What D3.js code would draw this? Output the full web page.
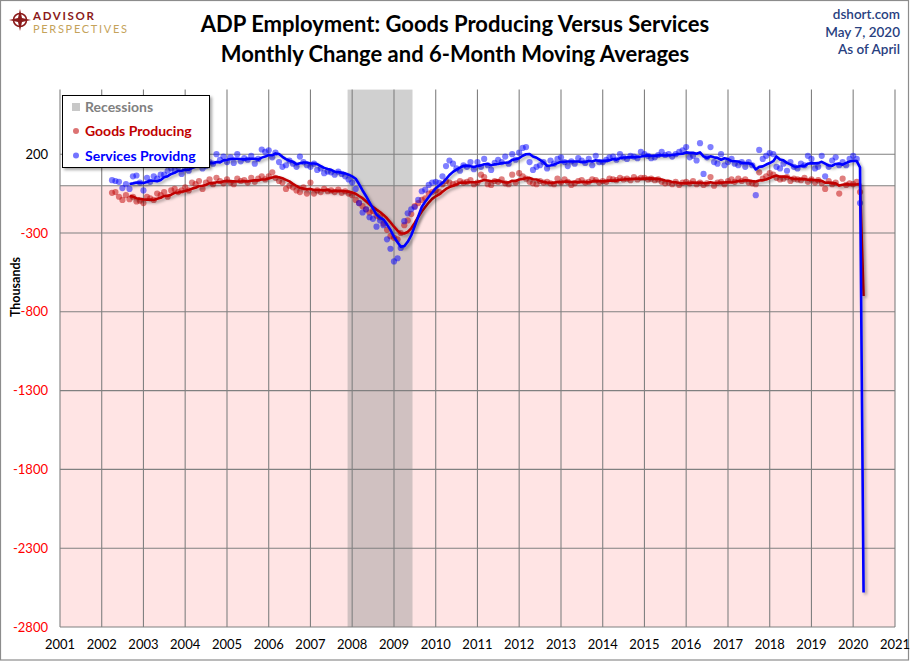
<!DOCTYPE html>
<html>
<head>
<meta charset="utf-8">
<title>ADP Employment: Goods vs Services</title>
<script src="https://cdn.jsdelivr.net/npm/d3@7"></script>
<style>
    body { margin: 0; background: #fff; }
    svg { display: block; font-family: Lato, "Open Sans", sans-serif; }
</style>
</head>
<body>
<div id="chart"></div>
<script>

// ADP monthly change in employment (thousands), Apr 2002 .. Apr 2020
let firstMonth = "2002-04";

let goodsChange = [
    -45, -40, -70, -90, -60, -85, -70, -100, -95,                    // 2002 (Apr-Dec)
    -110, -70, -80, -90, -50, -60, -40, -70, -30, -20, -40, -30,     // 2003
    -10, -30, 20, 10, 30, -20, 20, 40, 10, 50, 30, 15,               // 2004
    40, 20, 10, 45, 30, 35, 20, 50, 25, 45, 60, 40,                  // 2005
    60, 85, 50, 30, 20, -20, 0, -10, -30, -40, -10, -50,             // 2006
    20, -50, -30, -40, -20, -35, -30, -40, -25, -45, -35, -50,       // 2007
    -60, -90, -110, -130, -150, -170, -160, -190, -200, -240, -280, -320, // 2008
    -330, -340, -300, -250, -220, -180, -130, -110, -90, -80, -50, -40,   // 2009
    -30, -40, 10, 30, 20, 10, 15, 30, 20, 25, 35, 10,                // 2010
    20, 70, 55, 10, 5, 30, 25, 40, 15, 10, 70, 20,                   // 2011
    80, 60, 45, 25, 15, 10, 30, 20, 25, 15, 10, 45,                  // 2012
    20, 40, 25, 5, 15, 30, 35, 20, 25, 40, 35, 20,                   // 2013
    30, 25, 45, 40, 35, 50, 40, 45, 35, 55, 40, 50,                  // 2014
    50, 40, 45, 35, 40, 25, 15, 20, 10, 25, 5, 20,                   // 2015
    25, 15, 30, 10, 20, 5, 15, 55, 0, 20, 25, 10,                    // 2016
    30, 40, 25, 45, 30, 40, 20, 15, 10, 85, 45, 60,                  // 2017
    80, 70, 50, 40, 45, 55, 30, 45, 40, 35, 50, 25,                  // 2018
    40, 20, 35, 15, -20, 30, 10, 20, -50, 45, 5, 15,                 // 2019
    10, 25, -40, -4210                                               // 2020 (Jan-Apr)
];

let servicesChange = [
    35, 30, 25, -15, 10, -20, 60, 65, 20,                            // 2002 (Apr-Dec)
    -30, 50, 25, 60, 45, 70, 70, 95, 110, 100, 120, 75,              // 2003
    110, 95, 170, 150, 180, 110, 125, 150, 140, 200, 165, 185,       // 2004
    150, 180, 145, 200, 155, 175, 165, 190, 140, 170, 230, 215,      // 2005
    225, 180, 210, 150, 120, 130, 160, 140, 120, 185, 150, 130,      // 2006
    120, 140, 100, 110, 80, 90, 85, 70, 90, 75, 60, 40,              // 2007
    20, -20, -110, -170, -150, -200, -210, -260, -220, -250, -340, -400, // 2008
    -480, -460, -395, -225, -175, -150, -135, -90, -35, -25, 5, 20,  // 2009
    25, 18, 60, 125, 160, 140, 110, 95, 130, 120, 150, 105,          // 2010
    150, 120, 170, 130, 100, 145, 165, 150, 185, 140, 200, 165,      // 2011
    210, 240, 245, 150, 100, 120, 130, 150, 110, 160, 140, 170,      // 2012
    180, 150, 125, 155, 140, 175, 160, 145, 170, 130, 190, 150,      // 2013
    150, 165, 180, 185, 165, 200, 180, 170, 190, 185, 175, 215,      // 2014
    200, 190, 175, 180, 195, 215, 195, 200, 185, 200, 215, 225,      // 2015
    245, 180, 190, 160, 270, 75, 180, 245, 150, 140, 200, 130,       // 2016
    150, 170, 140, 130, 150, 120, 150, 130, -60, 227, 170, 190,      // 2017
    207, 200, 120, 110, 140, 95, 150, 120, 110, 140, 130, 190,       // 2018
    170, 110, 120, 190, 60, 120, 160, 180, 130, 150, 130, 170,       // 2019
    190, 170, -110, -16040                                           // 2020 (Jan-Apr)
];

let recessions = [{start: "2007-11-22", end: "2009-06-12"}];

let yearTicks = d3.range(2001, 2022);
let valueTicks = [200, -300, -800, -1300, -1800, -2300, -2800];
let yMin = -2800, yMax = 610;
let maWindow = 6;


class EmploymentChart {

    constructor(parentElement) {
        this.parentElement = parentElement;
        this.initVis();
    }

    initVis() {
        let vis = this;

        vis.width = 910;
        vis.height = 661;
        vis.plot = {left: 60, right: 895, top: 89.6, bottom: 627};

        vis.svg = d3.select(vis.parentElement).append("svg")
            .attr("width", vis.width)
            .attr("height", vis.height);

        let defs = vis.svg.append("defs");
        defs.append("filter").attr("id", "shadow")
            .attr("x", "-20%").attr("y", "-20%").attr("width", "140%").attr("height", "140%")
            .append("feDropShadow")
            .attr("dx", 2).attr("dy", 2).attr("stdDeviation", 1.4)
            .attr("flood-color", "#000").attr("flood-opacity", 0.35);
        defs.append("clipPath").attr("id", "plotClip")
            .append("rect")
            .attr("x", vis.plot.left).attr("y", vis.plot.top)
            .attr("width", vis.plot.right - vis.plot.left)
            .attr("height", vis.plot.bottom - vis.plot.top);

        // outer frame
        vis.svg.append("rect")
            .attr("x", 0.5).attr("y", 0.5)
            .attr("width", vis.width - 2).attr("height", vis.height - 1.5)
            .attr("fill", "#fff").attr("stroke", "#8c8c8c").attr("stroke-width", 1.2);

        vis.x = d3.scaleTime()
            .domain([new Date(2001, 0, 1), new Date(2021, 0, 1)])
            .range([vis.plot.left, vis.plot.right]);

        vis.y = d3.scaleLinear()
            .domain([yMin, yMax])
            .range([vis.plot.bottom, vis.plot.top]);

        vis.drawHeader();
        vis.wrangleData();
    }

    wrangleData() {
        let vis = this;
        let start = d3.timeParse("%Y-%m")(firstMonth);

        let build = (values) => values.map((v, i) => {
            let row = {date: d3.timeMonth.offset(start, i), value: v, ma: null};
            if (i >= maWindow - 1) {
                row.ma = d3.mean(values.slice(i - maWindow + 1, i + 1));
            }
            return row;
        });

        vis.goods = build(goodsChange);
        vis.services = build(servicesChange);

        vis.updateVis();
    }

    updateVis() {
        let vis = this;
        let p = vis.plot;
        let parse = d3.timeParse("%Y-%m-%d");

        // negative territory shading
        vis.svg.append("rect")
            .attr("x", p.left).attr("y", vis.y(0))
            .attr("width", p.right - p.left)
            .attr("height", vis.y(yMin) - vis.y(0))
            .attr("fill", "#ffe4e4");

        // recessions
        vis.svg.selectAll(".recession")
            .data(recessions)
            .enter().append("rect")
            .attr("class", "recession")
            .attr("x", d => vis.x(parse(d.start)))
            .attr("y", p.top)
            .attr("width", d => vis.x(parse(d.end)) - vis.x(parse(d.start)))
            .attr("height", p.bottom - p.top)
            .attr("fill", "#969696")
            .attr("fill-opacity", 0.45);

        // grid
        let grid = vis.svg.append("g").attr("stroke", "#808080").attr("stroke-width", 1.1);
        grid.selectAll(".vgrid")
            .data(yearTicks)
            .enter().append("line")
            .attr("x1", d => vis.x(new Date(d, 0, 1)))
            .attr("x2", d => vis.x(new Date(d, 0, 1)))
            .attr("y1", p.top).attr("y2", p.bottom);
        grid.selectAll(".hgrid")
            .data(valueTicks.concat([0]))
            .enter().append("line")
            .attr("x1", p.left).attr("x2", p.right)
            .attr("y1", d => vis.y(d)).attr("y2", d => vis.y(d));

        // axis labels
        vis.svg.selectAll(".ylab")
            .data(valueTicks)
            .enter().append("text")
            .attr("x", 48)
            .attr("y", d => vis.y(d) + 4.5)
            .attr("text-anchor", "end")
            .attr("font-size", 13)
            .attr("fill", d => d < 0 ? "#ff0000" : "#000")
            .text(d => d);

        vis.svg.selectAll(".xlab")
            .data(yearTicks)
            .enter().append("text")
            .attr("x", d => vis.x(new Date(d, 0, 1)))
            .attr("y", 649)
            .attr("text-anchor", "middle")
            .attr("font-size", 13)
            .attr("fill", "#000")
            .text(d => d);

        vis.svg.append("text")
            .attr("transform", "translate(20,287) rotate(-90)")
            .attr("text-anchor", "middle")
            .attr("font-size", 12.5)
            .attr("font-weight", "bold")
            .text("Thousands");

        // dots + moving averages
        let series = [
            {data: vis.goods, dot: "#c00000", line: "#c00000"},
            {data: vis.services, dot: "#0000ff", line: "#0000ff"}
        ];

        let plotG = vis.svg.append("g").attr("clip-path", "url(#plotClip)");

        series.forEach(s => {
            plotG.append("g").selectAll("circle")
                .data(s.data)
                .enter().append("circle")
                .attr("cx", d => vis.x(d.date))
                .attr("cy", d => vis.y(d.value))
                .attr("r", 3.1)
                .attr("fill", s.dot)
                .attr("fill-opacity", 0.5);
        });

        let line = d3.line()
            .defined(d => d.ma !== null)
            .x(d => vis.x(d.date))
            .y(d => vis.y(d.ma));

        series.forEach(s => {
            plotG.append("path")
                .datum(s.data)
                .attr("d", line)
                .attr("fill", "none")
                .attr("stroke", s.line)
                .attr("stroke-width", 2.6)
                .attr("stroke-linejoin", "round")
                .attr("filter", "url(#shadow)");
        });

        vis.drawLegend();
    }

    drawLegend() {
        let vis = this;
        let lg = vis.svg.append("g");

        lg.append("rect")
            .attr("x", 62.5).attr("y", 95.5)
            .attr("width", 147).attr("height", 72)
            .attr("fill", "#fff").attr("stroke", "#000")
            .attr("filter", "url(#shadow)");

        lg.append("rect")
            .attr("x", 72).attr("y", 103)
            .attr("width", 8).attr("height", 8)
            .attr("fill", "#c8c8c8");

        let items = [
            {label: "Recessions", color: "#808080", y: 107},
            {label: "Goods Producing", color: "#c00000", y: 131, dot: true},
            {label: "Services Providng", color: "#0000ff", y: 155.5, dot: true}
        ];

        items.forEach(d => {
            if (d.dot) {
                lg.append("circle")
                    .attr("cx", 76).attr("cy", d.y)
                    .attr("r", 3)
                    .attr("fill", d.color).attr("fill-opacity", 0.55);
            }
            lg.append("text")
                .attr("x", 85).attr("y", d.y + 5)
                .attr("font-size", 14)
                .attr("font-weight", "bold")
                .attr("fill", d.color)
                .text(d.label);
        });
    }

    drawHeader() {
        let vis = this;

        // titles
        vis.svg.append("text")
            .attr("x", 455).attr("y", 32)
            .attr("text-anchor", "middle")
            .attr("font-size", 22).attr("font-weight", "bold")
            .text("ADP Employment: Goods Producing Versus Services");
        vis.svg.append("text")
            .attr("x", 455).attr("y", 62)
            .attr("text-anchor", "middle")
            .attr("font-size", 22).attr("font-weight", "bold")
            .text("Monthly Change and 6-Month Moving Averages");

        // source block, top right
        ["dshort.com", "May 7, 2020", "As of April"].forEach((t, i) => {
            vis.svg.append("text")
                .attr("x", 900).attr("y", 19 + i * 17.5)
                .attr("text-anchor", "end")
                .attr("font-size", 13.5)
                .attr("font-weight", 600)
                .attr("fill", "#284080")
                .text(t);
        });

        // logo
        let logo = vis.svg.append("g");
        logo.append("circle")
            .attr("cx", 20).attr("cy", 20).attr("r", 6.5)
            .attr("fill", "none").attr("stroke", "#8b1a1a").attr("stroke-width", 1.6);
        logo.append("path")
            .attr("d", "M20,9 L22,18 L31,20 L22,22 L20,31 L18,22 L9,20 L18,18 Z")
            .attr("fill", "#8b1a1a");
        logo.append("text")
            .attr("x", 33).attr("y", 19.5)
            .attr("font-size", 11.5).attr("font-weight", "bold")
            .attr("fill", "#8b1a1a")
            .attr("textLength", 61)
            .text("ADVISOR");
        logo.append("text")
            .attr("x", 33).attr("y", 33)
            .attr("font-size", 11)
            .attr("fill", "#c5a35a")
            .attr("textLength", 94)
            .text("PERSPECTIVES");
    }
}

new EmploymentChart(document.getElementById("chart"));

</script>
</body>
</html>
